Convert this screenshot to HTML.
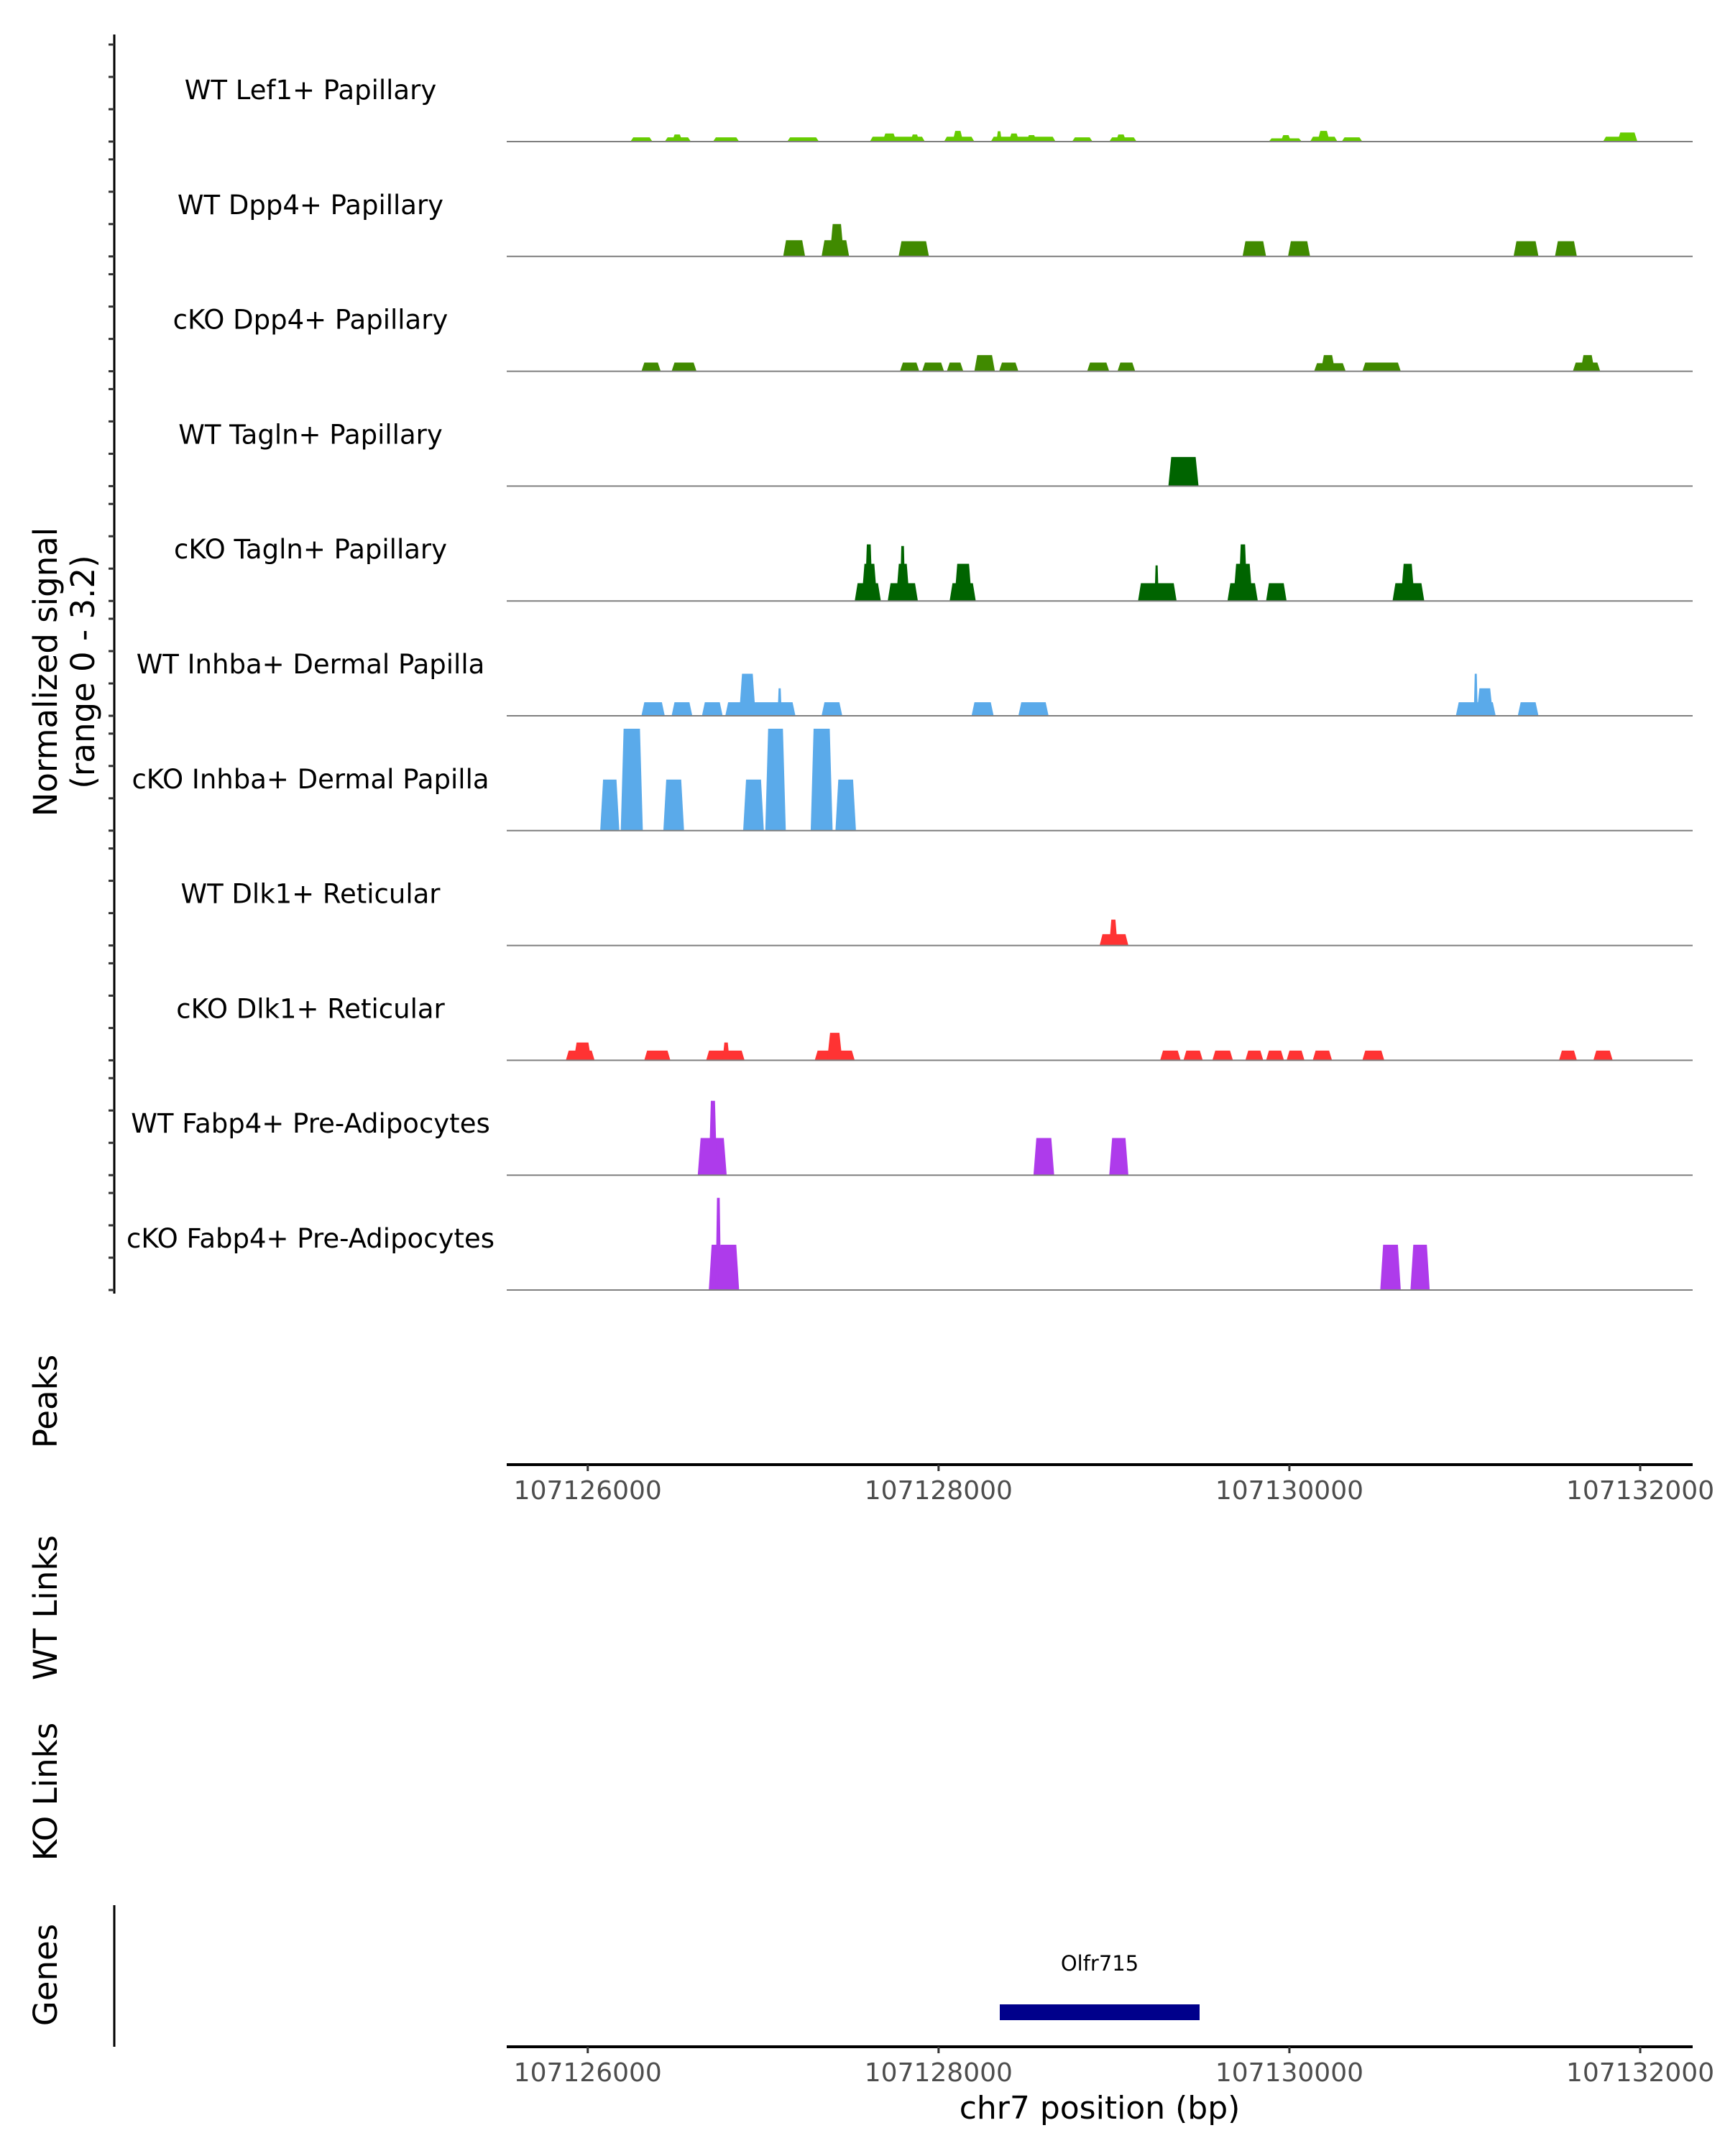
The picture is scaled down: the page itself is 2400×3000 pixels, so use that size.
<!DOCTYPE html>
<html><head><meta charset="utf-8"><style>
html,body{margin:0;padding:0;background:#fff;}
svg{display:block;font-family:"DejaVu Sans","Liberation Sans",sans-serif;}
</style></head><body>
<svg id="chart" width="2400" height="3000" viewBox="0 0 2400 3000" xmlns="http://www.w3.org/2000/svg">
<g id="tracks"></g>
<g id="axes"></g>
<text transform="translate(79,935) rotate(-90)" text-anchor="middle" font-size="45" fill="#000">Normalized signal</text>
<text transform="translate(131,935) rotate(-90)" text-anchor="middle" font-size="45" fill="#000">(range 0 - 3.2)</text>
<text transform="translate(79,1950) rotate(-90)" text-anchor="middle" font-size="45">Peaks</text>
<text transform="translate(79,2237) rotate(-90)" text-anchor="middle" font-size="45">WT Links</text>
<text transform="translate(79,2493) rotate(-90)" text-anchor="middle" font-size="45">KO Links</text>
<text transform="translate(79,2748) rotate(-90)" text-anchor="middle" font-size="45">Genes</text>
<line x1="159" y1="2651" x2="159" y2="2848" stroke="#000" stroke-width="3"/>
<rect x="1391" y="2789" width="278" height="22" fill="#00008B"/>
<text x="1530" y="2742" text-anchor="middle" font-size="29">Olfr715</text>
<text x="1530" y="2948" text-anchor="middle" font-size="44">chr7 position (bp)</text>
</svg>
<script>
const xMin = 107125538, xMax = 107132299;
const xTicks = [107126000, 107128000, 107130000, 107132000];
const trackNames = ["WT Lef1+ Papillary","WT Dpp4+ Papillary","cKO Dpp4+ Papillary","WT Tagln+ Papillary","cKO Tagln+ Papillary","WT Inhba+ Dermal Papilla","cKO Inhba+ Dermal Papilla","WT Dlk1+ Reticular","cKO Dlk1+ Reticular","WT Fabp4+ Pre-Adipocytes","cKO Fabp4+ Pre-Adipocytes"];
const trackColors = ["#66CC00","#408A00","#408A00","#006400","#006400","#5AAAEA","#5AAAEA","#FF3333","#FF3333","#AE3BEB","#AE3BEB"];
const yTicks = [0,1,2,3];
// peaks: [start offset bp from 107126000, end offset, value]
const lef1WT = [[243,369,0.13],[439,588,0.13],[480,540,0.22],[714,863,0.13],[1137,1318,0.13],[1608,1922,0.15],[1680,1760,0.25],[1840,1890,0.22],[2031,2204,0.15],[2080,2140,0.33],[2298,2667,0.15],[2330,2360,0.32],[2400,2460,0.25],[2500,2560,0.2],[2761,2878,0.13],[2973,3129,0.13],[3010,3070,0.22],[3882,4071,0.1],[3950,4010,0.2],[4118,4274,0.15],[4160,4230,0.33],[4298,4416,0.13],[5788,5984,0.15],[5870,5984,0.28]];
const dpp4WT = [[1114,1239,0.5],[1333,1490,0.5],[1380,1460,1.0],[1772,1945,0.47],[3733,3867,0.47],[3992,4118,0.47],[5278,5420,0.47],[5514,5639,0.47]];
const dpp4KO = [[306,416,0.27],[478,620,0.27],[1780,1890,0.27],[1906,2031,0.27],[2047,2141,0.27],[2204,2321,0.5],[2345,2455,0.27],[2847,2973,0.27],[3020,3121,0.27],[4141,4321,0.25],[4180,4260,0.5],[4416,4635,0.27],[5616,5772,0.27],[5660,5740,0.5]];
const taglnWT = [[3310,3482,0.9]];
const taglnKO = [[1522,1671,0.55],[1561,1650,1.15],[1580,1624,1.75],[1710,1882,0.55],[1757,1835,1.15],[1780,1810,1.7],[2063,2212,0.55],[2090,2190,1.15],[3137,3357,0.55],[3231,3255,1.1],[3647,3820,0.55],[3680,3790,1.15],[3710,3760,1.75],[3867,3984,0.55],[4588,4769,0.55],[4635,4714,1.15]];
const inhbaWT = [[306,439,0.42],[478,596,0.42],[651,769,0.42],[784,1184,0.42],[863,957,1.3],[1082,1106,0.85],[1333,1451,0.42],[2188,2314,0.42],[2455,2627,0.42],[4949,5176,0.42],[5067,5161,0.85],[5051,5074,1.3],[5302,5420,0.42]];
const inhbaKO = [[71,180,1.58],[188,314,3.15],[431,549,1.58],[886,1004,1.58],[1012,1129,3.15],[1271,1396,3.15],[1412,1529,1.58]];
const dlk1WT = [[2918,3082,0.35],[2973,3020,0.8]];
const dlk1KO = [[-125,39,0.3],[-80,20,0.55],[322,471,0.3],[675,894,0.3],[769,808,0.55],[1294,1522,0.3],[1365,1451,0.85],[3263,3380,0.3],[3396,3506,0.3],[3561,3678,0.3],[3749,3851,0.3],[3867,3969,0.3],[3984,4086,0.3],[4133,4243,0.3],[4416,4541,0.3],[5537,5639,0.3],[5733,5843,0.3]];
const fabp4WT = [[627,792,1.15],[690,737,2.3],[2541,2659,1.15],[2973,3082,1.15]];
const fabp4KO = [[690,760,1.4],[729,760,2.85],[740,863,1.4],[4518,4635,1.4],[4690,4800,1.4]];
const trackData = [lef1WT,dpp4WT,dpp4KO,taglnWT,taglnKO,inhbaWT,inhbaKO,dlk1WT,dlk1KO,fabp4WT,fabp4KO];

const NS = "http://www.w3.org/2000/svg";
const plotL = 705, plotR = 2355;
const xScale = bp => plotL + (bp - xMin) / (xMax - xMin) * (plotR - plotL);
const base0 = 197, trackStep = 159.8, unitH = 45;
const yScale = (i, v) => base0 + i * trackStep - v * unitH;
const tracks = document.getElementById('tracks');
const axes = document.getElementById('axes');
function mk(tag, attrs, parent) {
  const e = document.createElementNS(NS, tag);
  for (const k in attrs) e.setAttribute(k, attrs[k]);
  parent.appendChild(e);
  return e;
}
const ax = mk('line', {x1:159, y1:48, x2:159, y2:1800, stroke:'#000', 'stroke-width':3}, axes);


trackNames.forEach((name, i) => {
  const g = mk('g', {}, tracks);
  
  
  const base = yScale(i, 0);
  yTicks.forEach(t => {
    const tk = mk('line', {x1:151, x2:159, y1:yScale(i, t), y2:yScale(i, t), stroke:'#333', 'stroke-width':3}, axes);
    
    
  });
  const lb = mk('text', {x:432, y:base - 59, 'text-anchor':'middle', 'font-size':37, fill:'#000'}, g);
  lb.textContent = name;
  
  
  trackData[i].forEach(p => {
    const x1 = xScale(107126000 + p[0]), x2 = xScale(107126000 + p[1]);
    const top = yScale(i, p[2]);
    const inset = Math.min(4, (x2 - x1) / 4);
    const poly = mk('polygon', {points: `${x1},${base} ${x1+inset},${top} ${x2-inset},${top} ${x2},${base}`, fill: trackColors[i]}, g);
    
    
  });
  const bl = mk('line', {x1:plotL, x2:plotR, y1:base, y2:base, stroke:'#7f7f7f', 'stroke-width':2}, g);
  
  
});
[2038, 2848].forEach((y, k) => {
  const l = mk('line', {x1:plotL, x2:plotR, y1:y, y2:y, stroke:'#000', 'stroke-width':4}, axes);
  
  
  xTicks.forEach(t => {
    const tk = mk('line', {x1:xScale(t), x2:xScale(t), y1:y, y2:y+9, stroke:'#333', 'stroke-width':3}, axes);
    
    
    const tl = mk('text', {x:xScale(t), y:y+48, 'text-anchor':'middle', 'font-size':36, fill:'#4d4d4d'}, axes);
    tl.textContent = t;
    
    
  });
});
</script>
</body></html>
